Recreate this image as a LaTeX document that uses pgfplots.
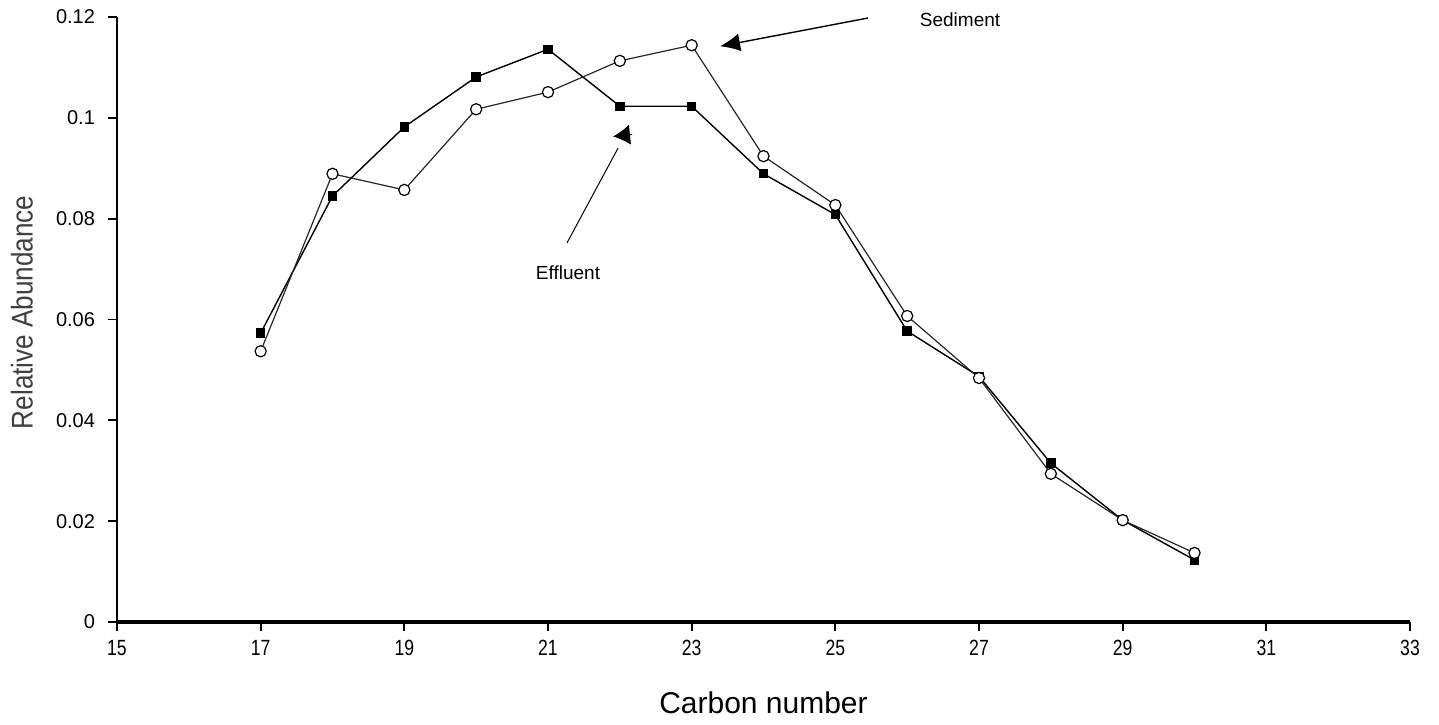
\documentclass[border=0pt]{standalone}
\usepackage{fontspec}
\setmainfont{Liberation Sans}
\usepackage{graphicx}
\usepackage{pgfplots}
\pgfplotsset{compat=1.18}
\usetikzlibrary{arrows.meta}
\begin{document}
\begin{tikzpicture}
\useasboundingbox (-58.5pt,-51pt) rectangle (661pt,311pt);
\begin{axis}[
  scale only axis,
  width=646.5pt, height=302.5pt,
  xmin=15, xmax=33, ymin=0, ymax=0.12,
  axis lines=left,
  axis line style={-},
  x axis line style={line width=2pt},
  y axis line style={line width=1.2pt},
  xtick={15,17,19,21,23,25,27,29,31,33},
  xticklabels={\scalebox{0.8}[1]{15},\scalebox{0.8}[1]{17},\scalebox{0.8}[1]{19},\scalebox{0.8}[1]{21},\scalebox{0.8}[1]{23},\scalebox{0.8}[1]{25},\scalebox{0.8}[1]{27},\scalebox{0.8}[1]{29},\scalebox{0.8}[1]{31},\scalebox{0.8}[1]{33}},
  ytick={0,0.02,0.04,0.06,0.08,0.1,0.12},
  yticklabels={0,0.02,0.04,0.06,0.08,0.1,0.12},
  tick align=outside,
  major tick length=4.5pt,
  tick style={black, line width=0.9pt},
  xticklabel style={font=\fontsize{11}{13}\selectfont, anchor=north, yshift=-1pt},
  yticklabel style={font=\fontsize{10}{12}\selectfont, anchor=east, xshift=-3pt},
  xlabel={Carbon number},
  ylabel={\scalebox{0.87}[1]{Relative Abundance}},
  xlabel style={font=\fontsize{15}{18}\selectfont, at={(axis description cs:0.5,0)}, anchor=center, yshift=-40.5pt},
  ylabel style={font=\fontsize{15}{18}\selectfont, color=black!75, at={(axis description cs:-0.0735,0.512)}, anchor=center},
  clip=false,
]
% Effluent (filled squares)
\addplot[black, line width=0.7pt, mark=square*, mark size=2pt, mark options={solid, fill=black}] coordinates {
  (17,0.0573) (18,0.0845) (19,0.0982) (20,0.1081) (21,0.1136) (22,0.1023) (23,0.1023)
  (24,0.0889) (25,0.0808) (26,0.0577) (27,0.0487) (28,0.0315) (29,0.0202) (30,0.0123)
};
% Sediment (open circles)
\addplot[black!85, line width=0.6pt, mark=*, mark size=2.8pt, mark options={solid, draw=black, fill=white}] coordinates {
  (17,0.0537) (18,0.0889) (19,0.0857) (20,0.1017) (21,0.1051) (22,0.1113) (23,0.1144)
  (24,0.0924) (25,0.0827) (26,0.0607) (27,0.0484) (28,0.0294) (29,0.0202) (30,0.0137)
};
% annotations
\draw[line width=0.7pt, -{Latex[length=10pt,width=9pt]}] (axis cs:25.455,0.1198) -- (axis cs:23.395,0.1142);
\node[font=\fontsize{9.5}{11}\selectfont] at (axis cs:26.736,0.1194) {Sediment};
\draw[line width=0.5pt] (axis cs:21.265,0.0752) -- (axis cs:21.975,0.0940);
\draw[line width=0.5pt, -{Latex[length=8.5pt,width=10pt]}] (axis cs:22.170,0.0967) -- (axis cs:21.905,0.0963);
\node[font=\fontsize{9.5}{11}\selectfont] at (axis cs:21.279,0.0692) {Effluent};
\end{axis}
\end{tikzpicture}
\end{document}
